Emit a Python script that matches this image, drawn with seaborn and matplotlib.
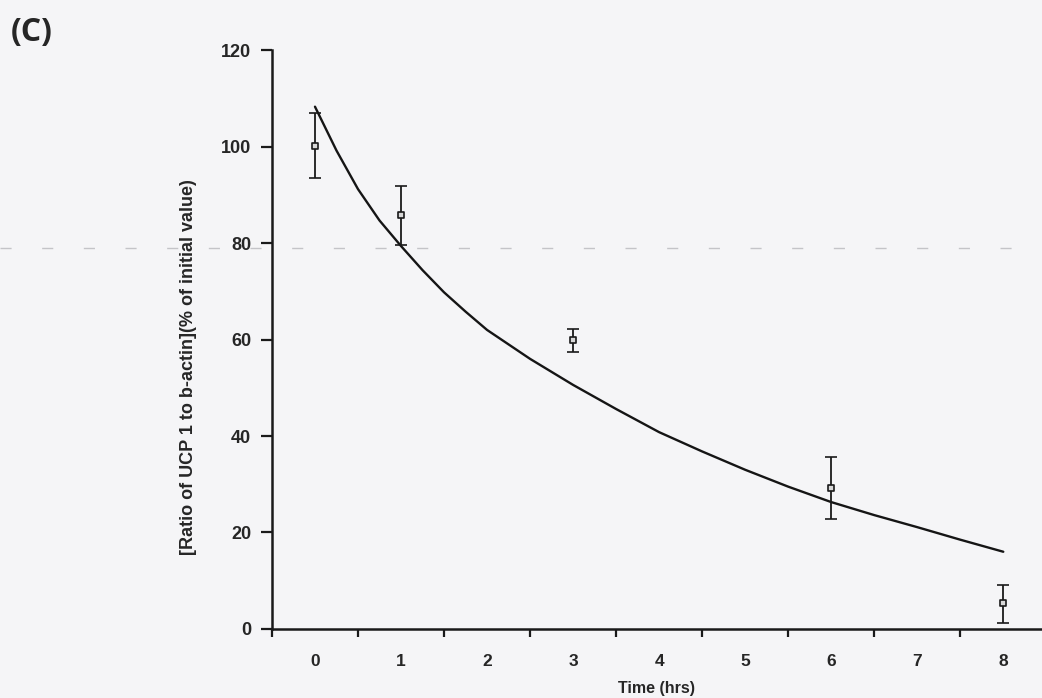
import matplotlib
matplotlib.use("Agg")
import matplotlib.pyplot as plt
from matplotlib.lines import Line2D
import numpy as np
import pandas as pd
import seaborn as sns

# measured points (mean with error bar ends)
time_hrs = [0, 1, 3, 6, 8]
ucp1_pct = [100.1, 85.8, 59.9, 29.3, 5.4]
err_top = [106.9, 91.8, 62.2, 35.7, 9.1]
err_bottom = [93.5, 79.6, 57.4, 22.8, 1.2]

# fitted decay curve
curve_t = [0, 0.25, 0.5, 0.75, 1, 1.25, 1.5, 1.75, 2, 2.5, 3, 3.5, 4, 4.5, 5, 5.5,
           6, 6.5, 7, 7.5, 8]
curve_y = [108.3, 99.2, 91.2, 84.7, 79.4, 74.4, 69.8, 65.8, 62.0, 56.0, 50.6, 45.6,
           40.8, 36.8, 33.0, 29.5, 26.3, 23.6, 21.1, 18.5, 16.0]

x_labels = ["0", "1", "2", "3", "4", "5", "6", "7", "8"]
y_ticks = [0, 20, 40, 60, 80, 100, 120]

sns.set_style("ticks")
plt.rcParams["font.family"] = ["Liberation Sans", "DejaVu Sans"]

bg = "#f5f5f7"
fig = plt.figure(figsize=(10.42, 6.98), dpi=100, facecolor=bg)
ax = fig.add_axes([0.261, 0.099, 0.739, 0.829])
ax.patch.set_alpha(0)

pts = pd.DataFrame({"t": time_hrs, "y": ucp1_pct})
fit = pd.DataFrame({"t": curve_t, "y": curve_y})

sns.lineplot(data=fit, x="t", y="y", ax=ax, color="#151515", linewidth=1.7,
             estimator=None, sort=False)
lo = np.array(ucp1_pct) - np.array(err_bottom)
hi = np.array(err_top) - np.array(ucp1_pct)
ax.errorbar(time_hrs, ucp1_pct, yerr=[lo, hi], fmt="none", ecolor="#1a1a1a",
            elinewidth=1.3, capsize=4, capthick=1.2)
sns.scatterplot(data=pts, x="t", y="y", ax=ax, marker="s", s=22,
                facecolor="#d8d8d8", edgecolor="#1a1a1a", linewidth=1.2, zorder=5)

ax.set_xlim(-0.5, 8.45)
ax.set_ylim(0, 120)
ax.set_xticks(range(9))
ax.set_xticklabels(x_labels, fontweight="bold", fontsize=12.5)
ax.set_xticks(np.arange(-0.5, 8.0, 1.0), minor=True)
ax.tick_params(axis="x", which="major", length=0, pad=18)
ax.tick_params(axis="x", which="minor", length=6, width=1.6, color="#1a1a1a")
ax.set_yticks(y_ticks)
ax.set_yticklabels([str(v) for v in y_ticks], fontweight="bold", fontsize=13)
ax.tick_params(axis="y", length=8, width=1.6, color="#1a1a1a", pad=7)

for s in ["top", "right"]:
    ax.spines[s].set_visible(False)
for s in ["left", "bottom"]:
    ax.spines[s].set_linewidth(1.8)
    ax.spines[s].set_color("#1a1a1a")

ax.set_xlabel("Time (hrs)", fontweight="bold", fontsize=11.5, labelpad=9)
ax.set_ylabel("[Ratio of UCP 1 to b-actin](% of initial value)", fontweight="bold",
              fontsize=13)
ax.yaxis.set_label_coords(-0.097, 0.452)

# scan artefact dashed line
fig.add_artist(Line2D([0, 1], [0.645, 0.645], transform=fig.transFigure,
                      color="#c4c4c8", linewidth=1.0, linestyle=(0, (8, 22)), zorder=0))

fig.text(0.030, 0.954, "(C)", fontsize=23, fontweight="bold",
         family=["Open Sans", "DejaVu Sans"], va="center", ha="center")

fig.savefig("out.png", dpi=100, facecolor=bg)
